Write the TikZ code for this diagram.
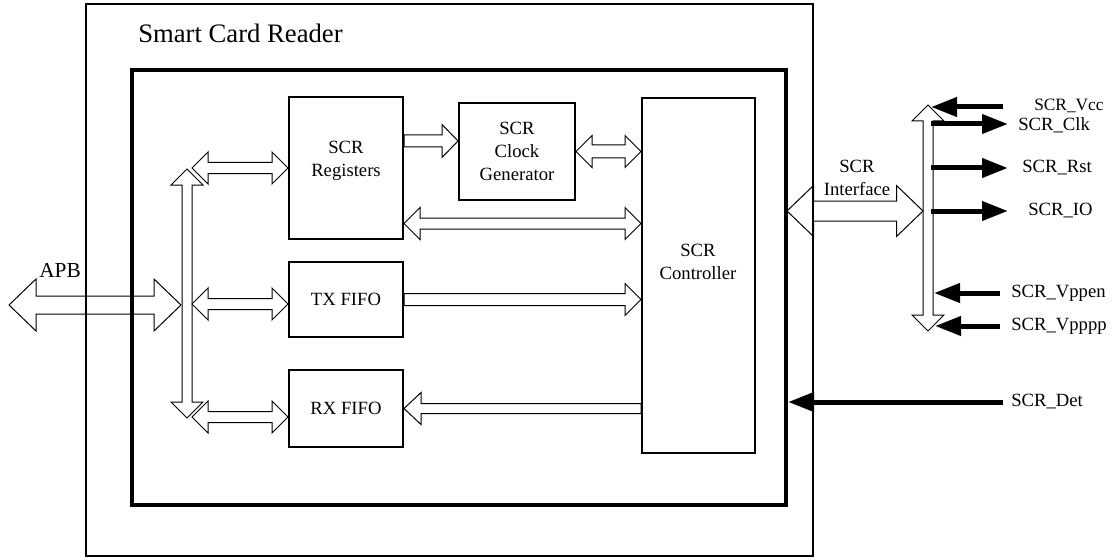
\documentclass[tikz,border=0pt]{standalone}
\usepackage{fontspec}
\setmainfont{Liberation Serif}
\usetikzlibrary{calc,arrows.meta}
\newcommand\lblfont{\fontsize{14}{17}\selectfont}
\newcommand\fatprep[2]{\path let \p1=(#1), \p2=(#2) in \pgfextra{\pgfmathsetmacro\tmpa{atan2(\y2-\y1,\x2-\x1)}\pgfmathsetmacro\tmpb{veclen(\x2-\x1,\y2-\y1)}\xdef\fatang{\tmpa}\xdef\fatlen{\tmpb}};}
% double headed hollow arrow: from, to, shaft half, head half, head length (px)
\newcommand\fatdbl[5]{\fatprep{#1}{#2}\draw[hollowarrow,shift={(#1)},rotate=\fatang] (0pt,0pt) -- ({#5*0.75pt},{#4*0.75pt}) -- ({#5*0.75pt},{#3*0.75pt}) -- ({\fatlen pt-#5*0.75pt},{#3*0.75pt}) -- ({\fatlen pt-#5*0.75pt},{#4*0.75pt}) -- ({\fatlen pt},0pt) -- ({\fatlen pt-#5*0.75pt},{-#4*0.75pt}) -- ({\fatlen pt-#5*0.75pt},{-#3*0.75pt}) -- ({#5*0.75pt},{-#3*0.75pt}) -- ({#5*0.75pt},{-#4*0.75pt}) -- cycle;}
% single headed hollow arrow
\newcommand\fatone[5]{\fatprep{#1}{#2}\draw[hollowarrow,shift={(#1)},rotate=\fatang] (0pt,{#3*0.75pt}) -- ({\fatlen pt-#5*0.75pt},{#3*0.75pt}) -- ({\fatlen pt-#5*0.75pt},{#4*0.75pt}) -- ({\fatlen pt},0pt) -- ({\fatlen pt-#5*0.75pt},{-#4*0.75pt}) -- ({\fatlen pt-#5*0.75pt},{-#3*0.75pt}) -- (0pt,{-#3*0.75pt}) -- cycle;}
\tikzset{
  hollowarrow/.style={draw, line width=0.75pt, line join=miter},
  blockstyle/.style={draw, line width=1.5pt, align=center, font=\lblfont, inner sep=0pt},
  txt/.style={align=center, font=\lblfont, inner sep=0pt},
  sigarrow/.style={line width=3.75pt, -{Triangle[length=19.5pt,width=14pt]}},
}
\begin{document}
\begin{tikzpicture}[x=0.75pt,y=-0.75pt]
\useasboundingbox (0,0) rectangle (1115,560);
% frames
\node[draw, line width=1.1pt, minimum width=727*0.75pt, minimum height=552*0.75pt, inner sep=0pt] (outer) at (449.5,280) {};
\node[draw, line width=3pt, minimum width=654*0.75pt, minimum height=435*0.75pt, inner sep=0pt] (inner) at (459,287.5) {};
\node[anchor=base west, font=\fontsize{20}{24}\selectfont, inner sep=0pt] (title) at (138,43) {Smart Card Reader};
% blocks
\node[blockstyle, minimum width=114*0.75pt, minimum height=142*0.75pt] (reg) at (346,168) {};
\node[txt] (reglbl) at (346,161) {SCR\\Registers};
\node[blockstyle, minimum width=116*0.75pt, minimum height=97*0.75pt] (clk) at (517,151.5) {SCR\\Clock\\Generator};
\node[blockstyle, minimum width=113*0.75pt, minimum height=355*0.75pt] (ctrl) at (698.5,275.5) {};
\node[txt] (ctrllbl) at (698,262) {SCR\\Controller};
\node[blockstyle, minimum width=114*0.75pt, minimum height=75*0.75pt] (tx) at (346,299.5) {TX FIFO};
\node[blockstyle, minimum width=114*0.75pt, minimum height=77*0.75pt] (rx) at (346,408.5) {RX FIFO};
% left bus
\coordinate (lbT) at (187,169);
\coordinate (lbB) at (187,418);
\coordinate (apbL) at (9,305);
\coordinate (apbR) at (181,305);
\node[anchor=base, font=\fontsize{16}{19}\selectfont, inner sep=0pt] (apblbl) at (60,277) {APB};
\fatdbl{apbL}{apbR}{9}{26}{27}
\fatdbl{lbT}{lbB}{5}{16}{16}
\coordinate (brReg) at (192,168);
\coordinate (brTx) at (192,304);
\coordinate (brRx) at (192,417);
\fatdbl{brReg}{reg.west}{5.5}{16}{16}
\fatdbl{brTx}{$(tx.west)+(0,4.5)$}{5.5}{16}{16}
\fatdbl{brRx}{$(rx.west)+(0,8.5)$}{5.5}{16}{16}
% internal
\coordinate (rk) at ($(reg.east)+(0,-27)$);
\fatone{rk}{rk -| clk.west}{6}{16.5}{16}
\fatdbl{clk.east}{clk.east -| ctrl.west}{6.5}{16}{16}
\coordinate (rc) at ($(reg.south east)+(0,-16.5)$);
\fatdbl{rc}{rc -| ctrl.west}{5.5}{16}{16}
\fatone{tx.east}{tx.east -| ctrl.west}{6}{16}{16}
\fatone{rx.east -| ctrl.west}{rx.east}{5}{16}{17}
% interface
\coordinate (ifL) at (787,211);
\coordinate (ifR) at (923,211);
\fatdbl{ifL}{ifR}{10}{25.5}{26.5}
\node[txt] (iflbl) at (857,178) {SCR\\Interface};
\coordinate (rbT) at (928,105);
\coordinate (rbB) at (928,331);
\fatdbl{rbT}{rbB}{5}{16}{16}
% signals
\coordinate (vccS) at (1003,107);  \coordinate (vccE) at (931,107);
\node[anchor=west, font=\fontsize{13}{15}\selectfont, inner sep=0pt] (vccL) at (1034,106) {SCR\_Vcc};
\draw[sigarrow] (vccS) -- (vccE);
\coordinate (clkS) at (931,124);  \coordinate (clkE) at (1008,124);
\node[anchor=west, font=\lblfont, inner sep=0pt] (clkL) at (1018,125) {SCR\_Clk};
\draw[sigarrow] (clkS) -- (clkE);
\coordinate (rstS) at (931,168);  \coordinate (rstE) at (1008,168);
\node[anchor=west, font=\lblfont, inner sep=0pt] (rstL) at (1022,168) {SCR\_Rst};
\draw[sigarrow] (rstS) -- (rstE);
\coordinate (ioS) at (931,211);  \coordinate (ioE) at (1008,211);
\node[anchor=west, font=\lblfont, inner sep=0pt] (ioL) at (1028,211) {SCR\_IO};
\draw[sigarrow] (ioS) -- (ioE);
\coordinate (venS) at (1000,293);  \coordinate (venE) at (934,293);
\node[anchor=west, font=\lblfont, inner sep=0pt] (venL) at (1011,293) {SCR\_Vppen};
\draw[sigarrow] (venS) -- (venE);
\coordinate (vppS) at (1000,326);  \coordinate (vppE) at (935,326);
\node[anchor=west, font=\lblfont, inner sep=0pt] (vppL) at (1011,326) {SCR\_Vpppp};
\draw[sigarrow] (vppS) -- (vppE);
\coordinate (detS) at (1003,402);
\node[anchor=west, font=\lblfont, inner sep=0pt] (detL) at (1011,402) {SCR\_Det};
\draw[sigarrow] (detS) -- (detS -| inner.east);
\end{tikzpicture}
\end{document}
